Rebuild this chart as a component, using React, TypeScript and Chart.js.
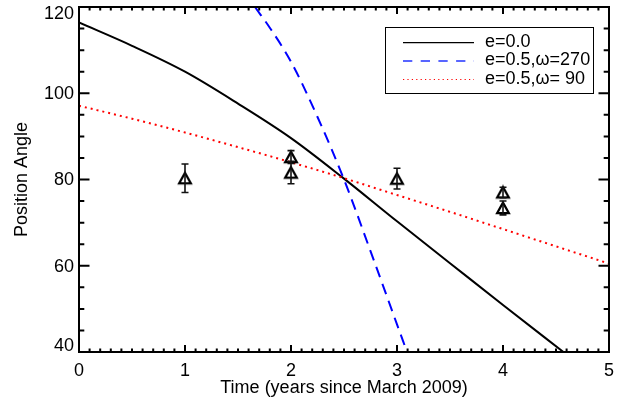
import { useEffect, useRef } from 'react';
import { Chart, registerables } from 'chart.js';

Chart.register(...registerables);

const FONT = '"Liberation Sans", Arial, Helvetica, sans-serif';

// axis ticks
const xTickValues = [0, 1, 2, 3, 4, 5];
const yTickValues = [40, 60, 80, 100, 120];

// model curves
const circX = [0, 0.5, 1, 1.5, 2, 2.5, 3, 3.5, 4, 4.57];
const circY = [116.4, 111.0, 105.0, 97.6, 89.6, 80.2, 70.3, 60.6, 50.9, 40];

const ecc270X = [1.66, 1.8, 2.0, 2.25, 2.5, 2.75, 3.0, 3.09];
const ecc270Y = [120, 115.2, 107.3, 94.5, 80.0, 63.4, 46.4, 40.3];

const ecc90X = [0, 0.5, 1, 1.5, 2, 2.5, 3, 3.5, 4, 4.5, 5];
const ecc90Y = [97.1, 94.1, 90.9, 87.5, 84.0, 80.3, 76.4, 72.5, 68.5, 64.5, 60.5];

// observations
const obsX = [1, 2, 2, 3, 4, 4];
const obsY = [80.3, 85.2, 81.6, 80.2, 77.0, 73.4];
const obsErr = [3.3, 1.5, 2.6, 2.4, 1.2, 1.6];

const legendLabels = ['e=0.0', 'e=0.5,\u03c9=270', 'e=0.5,\u03c9= 90'];

function makeTriangle(): HTMLCanvasElement {
  const c = document.createElement('canvas');
  c.width = 16;
  c.height = 16;
  const g = c.getContext('2d')!;
  g.strokeStyle = '#000';
  g.lineWidth = 2.2;
  g.lineJoin = 'miter';
  g.beginPath();
  g.moveTo(8, 2.6);
  g.lineTo(13.9, 13.1);
  g.lineTo(2.1, 13.1);
  g.closePath();
  g.stroke();
  return c;
}

const framePlugin = {
  id: 'idlFrame',
  afterDatasetsDraw(chart: any) {
    const { ctx, scales } = chart;
    ctx.save();
    ctx.strokeStyle = '#111';
    ctx.lineWidth = 1.6;
    for (let i = 0; i < obsX.length; i++) {
      const px = scales.x.getPixelForValue(obsX[i]);
      const y1 = scales.y.getPixelForValue(obsY[i] + obsErr[i]);
      const y2 = scales.y.getPixelForValue(obsY[i] - obsErr[i]);
      ctx.beginPath();
      ctx.moveTo(px, y1);
      ctx.lineTo(px, y2);
      ctx.moveTo(px - 3.5, y1);
      ctx.lineTo(px + 3.5, y1);
      ctx.moveTo(px - 3.5, y2);
      ctx.lineTo(px + 3.5, y2);
      ctx.stroke();
    }
    ctx.restore();
  },
  afterDraw(chart: any) {
    const { ctx, chartArea: a, scales } = chart;
    ctx.save();
    // frame
    ctx.strokeStyle = '#000';
    ctx.lineWidth = 2;
    ctx.strokeRect(a.left, a.top, a.right - a.left, a.bottom - a.top);
    // x ticks (top & bottom)
    ctx.beginPath();
    for (let i = 0; i <= 50; i++) {
      const v = i / 10;
      const px = scales.x.getPixelForValue(v);
      const len = i % 10 === 0 ? 7 : 3.5;
      ctx.moveTo(px, a.bottom);
      ctx.lineTo(px, a.bottom - len);
      ctx.moveTo(px, a.top);
      ctx.lineTo(px, a.top + len);
    }
    // y ticks (left & right)
    for (let v = 40; v <= 120; v += 5) {
      const py = scales.y.getPixelForValue(v);
      const len = v % 20 === 0 ? 10.5 : 5.3;
      ctx.moveTo(a.left, py);
      ctx.lineTo(a.left + len, py);
      ctx.moveTo(a.right, py);
      ctx.lineTo(a.right - len, py);
    }
    ctx.stroke();

    // tick labels
    ctx.fillStyle = '#000';
    ctx.font = `18px ${FONT}`;
    ctx.textAlign = 'center';
    ctx.textBaseline = 'middle';
    for (const v of xTickValues) {
      ctx.fillText(String(v), scales.x.getPixelForValue(v), a.bottom + 19);
    }
    ctx.textAlign = 'right';
    for (const v of yTickValues) {
      let py = scales.y.getPixelForValue(v) + 1;
      py = Math.max(a.top + 7.5, Math.min(a.bottom - 5.5, py));
      ctx.fillText(String(v), a.left - 5, py);
    }

    // legend
    const bx = 385.5, by = 27.5, bw = 208, bh = 66;
    ctx.fillStyle = '#fff';
    ctx.fillRect(bx, by, bw, bh);
    ctx.strokeStyle = '#000';
    ctx.lineWidth = 1;
    ctx.strokeRect(bx, by, bw, bh);
    const rows = [42.7, 61, 79.5];
    const styles = [
      { color: '#000', dash: [] as number[], w: 1.2 },
      { color: '#2233ff', dash: [9.3, 8.4], w: 1.5 },
      { color: '#ff0000', dash: [1.2, 3.2], w: 1.2 },
    ];
    for (let i = 0; i < 3; i++) {
      const s = styles[i];
      ctx.strokeStyle = s.color;
      ctx.lineWidth = s.w;
      ctx.setLineDash(s.dash);
      ctx.beginPath();
      ctx.moveTo(403, rows[i]);
      ctx.lineTo(474, rows[i]);
      ctx.stroke();
      ctx.setLineDash([]);
      ctx.fillStyle = '#000';
      ctx.textAlign = 'left';
      ctx.textBaseline = 'middle';
      ctx.fillText(legendLabels[i], 485, rows[i] - 0.5);
    }
    ctx.restore();
  },
};

export default function App() {
  const ref = useRef<HTMLCanvasElement | null>(null);
  useEffect(() => {
    document.body.style.margin = '0';
    const canvas = ref.current!;
    const tri = makeTriangle();
    const toPts = (xs: number[], ys: number[]) => xs.map((x, i) => ({ x, y: ys[i] }));
    const chart = new Chart(canvas, {
      type: 'scatter',
      data: {
        datasets: [
          {
            label: 'obs',
            data: toPts(obsX, obsY),
            pointStyle: tri as any,
            pointRadius: 6,
            showLine: false,
            order: 0,
          } as any,
          {
            label: legendLabels[0],
            data: toPts(circX, circY),
            showLine: true,
            borderColor: '#000',
            borderWidth: 2,
            pointRadius: 0,
            cubicInterpolationMode: 'monotone',
            order: 3,
          },
          {
            label: legendLabels[1],
            data: toPts(ecc270X, ecc270Y),
            showLine: true,
            borderColor: '#0000ff',
            borderWidth: 2,
            borderDash: [11, 7],
            pointRadius: 0,
            cubicInterpolationMode: 'monotone',
            order: 2,
          },
          {
            label: legendLabels[2],
            data: toPts(ecc90X, ecc90Y),
            showLine: true,
            borderColor: '#ff0000',
            borderWidth: 2,
            borderDash: [2, 4],
            pointRadius: 0,
            cubicInterpolationMode: 'monotone',
            order: 1,
          },
        ],
      },
      options: {
        animation: false,
        responsive: false,
        events: [],
        layout: { padding: { top: 6, right: 15, left: 0, bottom: 0 } },
        plugins: { legend: { display: false }, tooltip: { enabled: false } },
        scales: {
          x: {
            type: 'linear',
            min: 0,
            max: 5,
            ticks: { display: false },
            grid: { display: false, drawTicks: false },
            border: { display: false },
            title: {
              display: true,
              text: 'Time (years since March 2009)',
              color: '#000',
              font: { family: FONT, size: 18 },
              padding: { top: 0, bottom: 1 },
            },
            afterFit: (s: any) => {
              s.height = 48;
            },
          },
          y: {
            type: 'linear',
            min: 40,
            max: 120,
            ticks: { display: false },
            grid: { display: false, drawTicks: false },
            border: { display: false },
            title: {
              display: true,
              text: 'Position Angle',
              color: '#000',
              font: { family: FONT, size: 18 },
              padding: { top: 11.5, bottom: 0 },
            },
            afterFit: (s: any) => {
              s.width = 79;
            },
          },
        },
      },
      plugins: [framePlugin],
    });
    return () => chart.destroy();
  }, []);
  return (
    <canvas
      ref={ref}
      width={624}
      height={400}
      style={{ display: 'block', width: 624, height: 400 }}
    />
  );
}
